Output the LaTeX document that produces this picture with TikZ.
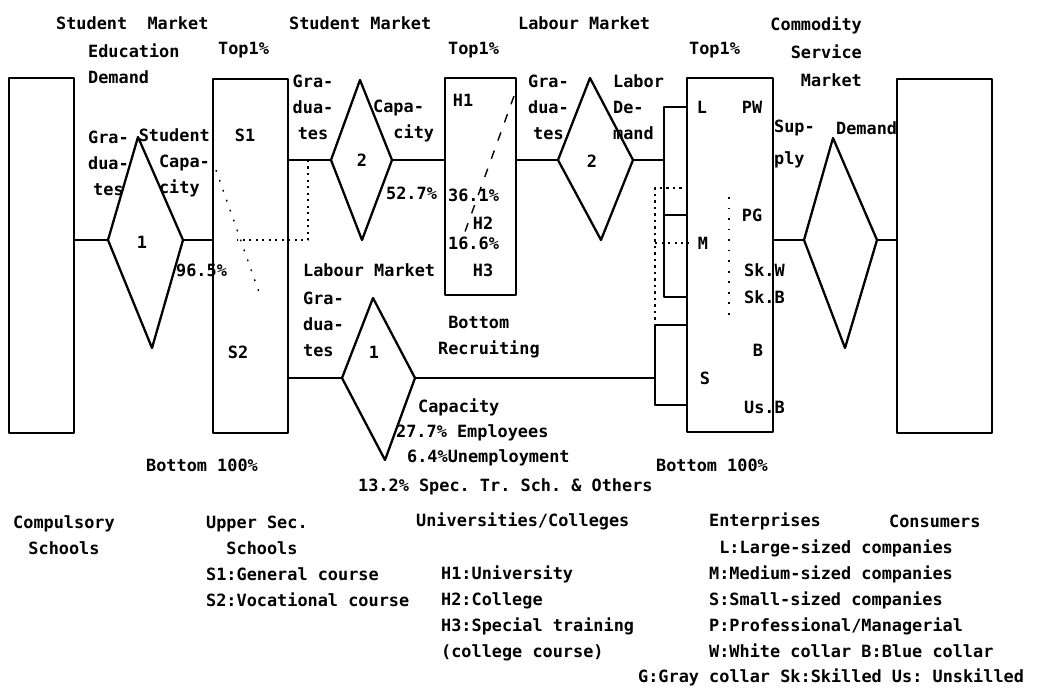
\documentclass[tikz,border=0pt]{standalone}
\usepackage{fontspec}
\setmonofont{DejaVu Sans Mono}
\usetikzlibrary{fit}

\begin{document}
\begin{tikzpicture}[x=0.02cm, y=-0.02cm, line width=1.3pt, line join=round,
    blk/.style={draw, inner sep=0pt, line width=1.3pt},
    lbl/.style={inner sep=0pt, anchor=west, align=left,
      font=\ttfamily\bfseries\fontsize{9.6}{14.8}\selectfont\frenchspacing},
    dotln/.style={line width=1pt, dash pattern=on 1.3pt off 2.4pt},
    faint/.style={line width=0.8pt, dash pattern=on 1pt off 5pt}]
\useasboundingbox (0,0) rectangle (1037,689);

% schools, universities, enterprises, consumers
\node[blk, fit={(9,78) (74,433)}] (cs) {};
\node[blk, fit={(213,79) (288,433)}] (us) {};
\node[blk, fit={(445,78) (516,295)}] (uc) {};
\node[blk, fit={(687,78) (773,432)}] (ent) {};
\node[blk, fit={(664,107) (687,215)}] (lg) {};
\node[blk, fit={(664,215) (687,297)}] (md) {};
\node[blk, fit={(655,325) (687,405)}] (sm) {};
\node[blk, fit={(897,79) (992,433)}] (cons) {};

% markets (skewed diamonds): name/west x/mid y/top x/top y/east x/bottom x/bottom y
\foreach \d/\wx/\wy/\tx/\ty/\ex/\bx/\by in {da/108/240/138/137/183/152/348,
    db/331/160/360/80/392/362/240, dc/558/160/590/78/633/601/240,
    dd/342/378/373/298/415/385/460, de/804/240/833/138/877/845/348} {
  \coordinate (\d-w) at (\wx,\wy);
  \coordinate (\d-t) at (\tx,\ty);
  \coordinate (\d-e) at (\ex,\wy);
  \coordinate (\d-b) at (\bx,\by);
  \draw (\d-w) -- (\d-t) -- (\d-e) -- (\d-b) -- cycle;
}

% flows
\draw (cs.east |- da-w) -- (da-w);
\draw (da-e) -- (da-e -| us.west);
\draw (us.east |- db-w) -- (db-w);
\draw (db-e) -- (db-e -| uc.west);
\draw (uc.east |- dc-w) -- (dc-w);
\draw (dc-e) -- (dc-e -| lg.west);
\draw (us.east |- dd-w) -- (dd-w);
\draw (dd-e) -- (dd-e -| sm.west);
\draw (ent.east |- de-w) -- (de-w);
\draw (de-e) -- (de-e -| cons.west);

% dotted returns
\coordinate (sgrad) at (308,160);
\coordinate (sback) at (237,240);
\draw[dotln] (sgrad) -- (sgrad |- sback) -- (sback);
\coordinate (etop) at (655,188);
\coordinate (emid) at (655,243);
\draw[dotln] (lg.east |- etop) -- (etop) -- (etop |- sm.north);
\draw[dotln] (emid) -- (emid -| md.east);

% faint split lines
\draw[faint] (216,170) -- (261,298);
\draw[line width=0.8pt, dash pattern=on 5pt off 6pt] (514,96) -- (462,240);
\draw[faint] (729,197) -- (729,315);

% headings
\node[lbl] (smk1) at (55,23) {Student\ \ Market};
\node[lbl] (edd) at (87,64) {Education\\Demand};
\node[lbl] (top1) at (217,50) {Top1\%};
\node[lbl] (smk2) at (288,23) {Student Market};
\node[lbl] (top2) at (447,50) {Top1\%};
\node[lbl] (lmk1) at (517,23) {Labour Market};
\node[lbl] (top3) at (688,50) {Top1\%};
\node[lbl, anchor=east, align=right] (csm) at (863,52) {Commodity\\[1pt]Service\\[1pt]Market};

% first market
\node[lbl, align=center] (gr1) at (87,163) {Gra-\\dua-\\tes};
\node[lbl, anchor=east, align=right] (scap) at (211,163) {Student\\Capa-\\city\hphantom{-}};
\node[lbl, anchor=center] (n1) at (142,242) {1};
\node[lbl] (p965) at (175,270) {96.5\%};
\node[lbl, anchor=center] (s1) at (245,135) {S1};
\node[lbl, anchor=center] (s2) at (238,352) {S2};

% student market
\node[lbl, align=center, anchor=center] (gr2) at (313,107) {Gra-\\dua-\\tes};
\node[lbl, anchor=center] (n2) at (362,160) {2};
\node[lbl] (cap2) at (372,121) {Capa-\\\hphantom{Ca}city};
\node[lbl] (p527) at (385,193) {52.7\%};
\node[lbl, anchor=center] (h1) at (463,100) {H1};
\node[lbl] (p361) at (447,195) {36.1\%};
\node[lbl, anchor=center] (h2) at (483,223) {H2};
\node[lbl] (p166) at (447,243) {16.6\%};
\node[lbl, anchor=center] (h3) at (483,270) {H3};

% labour market, top
\node[lbl, align=center] (gr3) at (527,107) {Gra-\\dua-\\tes};
\node[lbl, anchor=center] (n3) at (592,161) {2};
\node[lbl] (ldm) at (612,107) {Labor\\De-\\mand};
\node[lbl, anchor=center] (le) at (702,107) {L};
\node[lbl, anchor=center] (pw) at (752,107) {PW};
\node[lbl, anchor=center] (pg) at (752,215) {PG};
\node[lbl, anchor=center] (me) at (703,243) {M};
\node[lbl] (skw) at (743,270) {Sk.W};
\node[lbl] (skb) at (743,297) {Sk.B};
\node[lbl, anchor=center] (be) at (758,350) {B};
\node[lbl, anchor=center] (se) at (705,378) {S};
\node[lbl] (usb) at (743,407) {Us.B};

% commodity market
\node[lbl] (sup) at (773,144) {Sup-\\[3pt]ply};
\node[lbl] (dem) at (835,128) {Demand};

% labour market, bottom
\node[lbl] (lmk2) at (302,270) {Labour Market};
\node[lbl] (gr4) at (302,324) {Gra-\\dua-\\tes};
\node[lbl, anchor=center] (n4) at (374,352) {1};
\node[lbl] (brc) at (437,337) {\hphantom{R}Bottom\\Recruiting};
\node[lbl] (cp) at (417,407) {Capacity};
\node[lbl] (emp) at (395,433) {27.7\% Employees};
\node[lbl] (une) at (406,458) {6.4\%Unemployment};
\node[lbl] (spc) at (357,487) {13.2\% Spec.\ Tr.\ Sch.\ \& Others};
\node[lbl] (bt1) at (145,465) {Bottom 100\%};
\node[lbl] (bt2) at (655,465) {Bottom 100\%};

% legend
\node[lbl, align=center, anchor=center] (lcs) at (64,535) {Compulsory\\Schools};
\node[lbl] (lus) at (205,561) {Upper Sec.\\\hphantom{Up}Schools\\S1:General course\\S2:Vocational course};
\node[lbl] (luc) at (415,521) {Universities/Colleges};
\node[lbl] (luch) at (440,613) {H1:University\\H2:College\\H3:Special training\\(college course)};
\node[lbl] (lent) at (708,521) {Enterprises};
\node[lbl] (lentk) at (708,599) {\hphantom{M}L:Large-sized companies\\M:Medium-sized companies\\S:Small-sized companies\\P:Professional/Managerial\\W:White collar B:Blue collar};
\node[lbl] (lgc) at (637,677) {G:Gray collar Sk:Skilled Us: Unskilled};
\node[lbl] (lcon) at (888,521) {Consumers};
\end{tikzpicture}
\end{document}
